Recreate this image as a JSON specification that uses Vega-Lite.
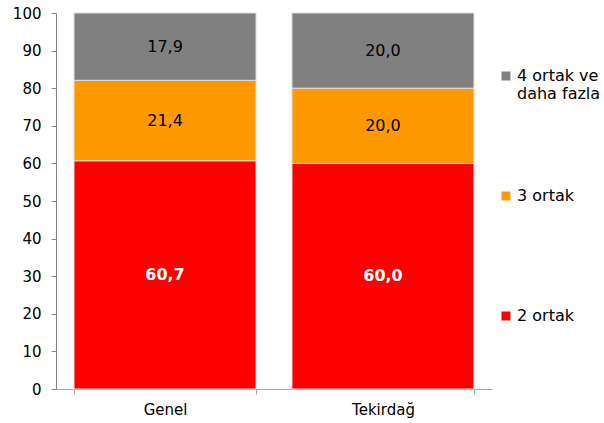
{
  "$schema": "https://vega.github.io/schema/vega-lite/v6.json",
  "width": 436,
  "height": 376,
  "autosize": "none",
  "padding": {"left": 56, "top": 13, "right": 112, "bottom": 34},
  "background": "white",
  "config": {
    "view": {"stroke": null},
    "font": "DejaVu Sans",
    "locale": {"number": {"decimal": ",", "thousands": ".", "grouping": [3], "currency": ["", " TL"]}}
  },
  "data": {
    "values": [
      {"yer": "Genel", "grup": "2 ortak", "deger": 60.7},
      {"yer": "Genel", "grup": "3 ortak", "deger": 21.4},
      {"yer": "Genel", "grup": "4 ortak ve daha fazla", "deger": 17.9},
      {"yer": "Tekirdağ", "grup": "2 ortak", "deger": 60.0},
      {"yer": "Tekirdağ", "grup": "3 ortak", "deger": 20.0},
      {"yer": "Tekirdağ", "grup": "4 ortak ve daha fazla", "deger": 20.0}
    ]
  },
  "encoding": {
    "x": {
      "field": "yer", "type": "nominal", "sort": ["Genel", "Tekirdağ"],
      "scale": {"paddingInner": 0.165, "paddingOuter": 0.0826},
      "axis": {
        "title": null, "labelAngle": 0, "labelFontSize": 15, "labelColor": "#000000",
        "labelPadding": 8, "tickBand": "extent", "tickSize": 5,
        "domainColor": "#a6a6a6", "tickColor": "#a6a6a6", "grid": false
      }
    },
    "y": {
      "field": "deger", "type": "quantitative", "stack": "zero",
      "scale": {"domain": [0, 100], "nice": false},
      "axis": {
        "title": null, "values": [0, 10, 20, 30, 40, 50, 60, 70, 80, 90, 100],
        "labelFontSize": 15, "labelColor": "#000000", "labelPadding": 10, "tickSize": 5,
        "domainColor": "#868686", "tickColor": "#868686", "grid": false
      }
    },
    "order": {"field": "grup", "type": "nominal", "sort": "ascending"}
  },
  "layer": [
    {
      "mark": {"type": "bar", "stroke": "#e0e0e0", "strokeWidth": 1},
      "encoding": {
        "color": {
          "field": "grup", "type": "nominal",
          "scale": {"domain": ["4 ortak ve daha fazla", "3 ortak", "2 ortak"], "range": ["#808080", "#ff9900", "#ff0000"]},
          "legend": {
            "title": null, "orient": "none", "legendX": 442, "legendY": 55,
            "symbolType": "square", "symbolSize": 81, "symbolStrokeWidth": 0,
            "labelFontSize": 16, "labelColor": "#000000", "labelOffset": 3, "labelLimit": 200,
            "labelLineHeight": 21,
            "rowPadding": 86,
            "labelExpr": "datum.label == '4 ortak ve daha fazla' ? ['4 ortak ve', 'daha fazla'] : [datum.label, ' ']"
          }
        }
      }
    },
    {
      "mark": {"type": "text", "fontSize": 16, "fontWeight": "bold", "color": "#ffffff"},
      "encoding": {
        "y": {"field": "deger", "type": "quantitative", "stack": "zero", "bandPosition": 0.5},
        "text": {"condition": {"test": "datum.grup == '2 ortak'", "field": "deger", "type": "quantitative", "format": ".1f"}, "value": ""}
      }
    },
    {
      "mark": {"type": "text", "fontSize": 16, "color": "#000000"},
      "encoding": {
        "y": {"field": "deger", "type": "quantitative", "stack": "zero", "bandPosition": 0.5},
        "text": {"condition": {"test": "datum.grup != '2 ortak'", "field": "deger", "type": "quantitative", "format": ".1f"}, "value": ""}
      }
    }
  ]
}
